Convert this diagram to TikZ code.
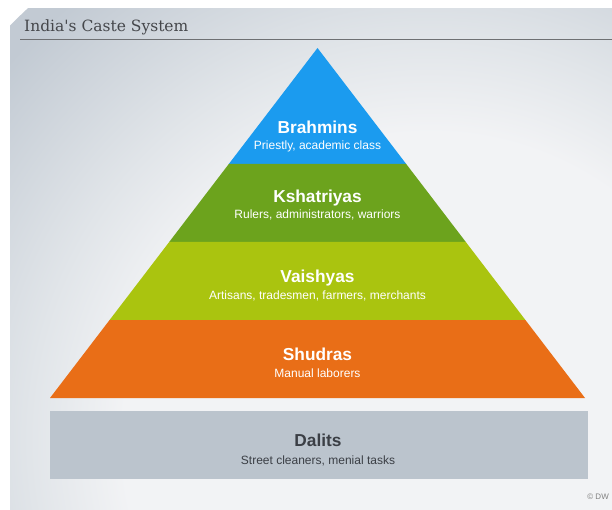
\documentclass[tikz,border=0pt]{standalone}
\usepackage{fontspec}
\setmainfont{Liberation Sans}
\newfontfamily\titlefont{DejaVu Serif}
\definecolor{bgdark}{HTML}{C2CAD3}
\definecolor{bgmid}{HTML}{E1E5E9}
\definecolor{bglight}{HTML}{F2F3F5}
\definecolor{titlegray}{HTML}{45474B}
\definecolor{rulegray}{HTML}{6E7073}
\definecolor{brahminblue}{HTML}{1B9BEF}
\definecolor{kshatriyagreen}{HTML}{6CA31D}
\definecolor{vaishyagreen}{HTML}{AAC40F}
\definecolor{shudraorange}{HTML}{E96E17}
\definecolor{dalitgray}{HTML}{BBC4CD}
\definecolor{dalittext}{HTML}{3B3F45}
% soft glow, light towards the lower right and darker to the upper left
\pgfdeclareradialshading{panelglow}{\pgfpointorigin}{%
  color(0bp)=(bglight); color(13bp)=(bglight); color(17bp)=(bgmid);
  color(24bp)=(bgdark); color(50bp)=(bgdark)}
\tikzset{
  castename/.style={anchor=base, inner sep=0, text=white, font=\bfseries\fontsize{17.3}{20}\selectfont},
  castedesc/.style={anchor=base, inner sep=0, text=white, font=\fontsize{12}{14}\selectfont},
}
\begin{document}
\begin{tikzpicture}[x=1pt,y=-1pt]
\useasboundingbox (0,0) rectangle (612,510);
\fill[white] (0,0) rectangle (612,510);
% panel background
\begin{scope}
  \clip (10,9) rectangle (612,510);
  \shade[shading=panelglow] (430,440) circle (590);
\end{scope}

% heading
\node[anchor=base west, inner sep=0, text=titlegray, font=\titlefont\fontsize{15.5}{18}\selectfont] (title) at (24,32) {India's Caste System};
\draw[rulegray, line width=1.3pt] (20,39.5) -- (612,39.5);

% pyramid corners
\coordinate (apex) at (317.5,48);
\coordinate (bl1) at (228.8,164);  \coordinate (br1) at (406.2,164);
\coordinate (bl2) at (169.2,242);  \coordinate (br2) at (465.8,242);
\coordinate (bl3) at (109.6,320);  \coordinate (br3) at (525.4,320);
\coordinate (bl4) at (50,398);     \coordinate (br4) at (585,398);

\fill[brahminblue] (apex) -- (br1) -- (bl1) -- cycle;
\fill[kshatriyagreen] (bl1) -- (br1) -- (br2) -- (bl2) -- cycle;
\fill[vaishyagreen] (bl2) -- (br2) -- (br3) -- (bl3) -- cycle;
\fill[shudraorange] (bl3) -- (br3) -- (br4) -- (bl4) -- cycle;

% Dalits box
\fill[dalitgray] (50,411) rectangle (588,479);

% labels
\node[castename] (brahmins) at (317.5,134) {Brahmins};
\node[castedesc] (brahminsdesc) at (317.5,150) {Priestly, academic class};
\node[castename] (kshatriyas) at (317.5,203) {Kshatriyas};
\node[castedesc] (kshatriyasdesc) at (317.5,219) {Rulers, administrators, warriors};
\node[castename] (vaishyas) at (317.5,282) {Vaishyas};
\node[castedesc] (vaishyasdesc) at (317.5,299) {Artisans, tradesmen, farmers, merchants};
\node[castename] (shudras) at (317.5,360) {Shudras};
\node[castedesc] (shudrasdesc) at (317.5,377) {Manual laborers};
\node[castename, text=dalittext] (dalits) at (318,446) {Dalits};
\node[castedesc, text=dalittext] (dalitsdesc) at (318,464) {Street cleaners, menial tasks};

\node[anchor=base east, inner sep=0, text=gray, font=\fontsize{8}{9}\selectfont] (credit) at (609,499) {© DW};
\end{tikzpicture}
\end{document}
